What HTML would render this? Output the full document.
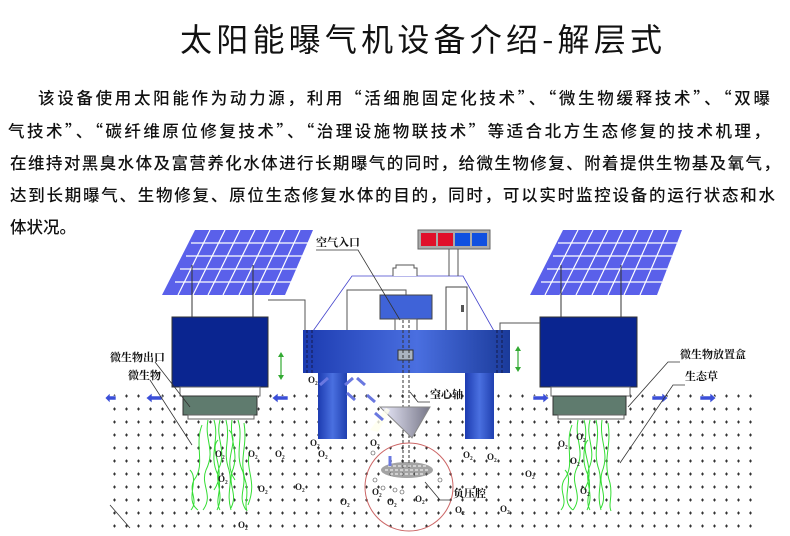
<!DOCTYPE html>
<html><head><meta charset="utf-8"><style>
html,body{margin:0;padding:0;background:#fff;width:790px;height:536px;overflow:hidden;position:relative}
.t{position:absolute;left:180px;top:16px;width:482px;text-align:justify;text-align-last:justify;font:32px/44px "Noto Sans CJK SC",sans-serif;color:#111;white-space:nowrap}
.l{position:absolute;font:16.5px/24px "Noto Sans CJK SC",sans-serif;color:#111;text-align:justify;text-align-last:justify;white-space:nowrap;font-weight:500}
svg{position:absolute;left:0;top:0}
</style></head><body>
<div class="t">太阳能曝气机设备介绍-解层式</div>
<div class="l" style="left:38px;top:85px;width:732px">该设备使用太阳能作为动力源，利用“活细胞固定化技术”、“微生物缓释技术”、“双曝</div>
<div class="l" style="left:8px;top:118px;width:762px">气技术”、“碳纤维原位修复技术”、“治理设施物联技术”等适合北方生态修复的技术机理，</div>
<div class="l" style="left:10px;top:150px;width:770px">在维持对黑臭水体及富营养化水体进行长期曝气的同时，给微生物修复、附着提供生物基及氧气，</div>
<div class="l" style="left:10px;top:182px;width:765px">达到长期曝气、生物修复、原位生态修复水体的目的，同时，可以实时监控设备的运行状态和水</div>
<div class="l" style="left:10px;top:214px;text-align:left;text-align-last:left">体状况。</div>
<svg width="790" height="536" viewBox="0 0 790 536" font-family="Liberation Serif,Noto Serif CJK SC,serif">
<defs>
<pattern id="dots" width="12" height="13" patternUnits="userSpaceOnUse"><path d="M5 6h3M6.5 4.5v3" stroke="#333" stroke-width="1.1"/></pattern>
<linearGradient id="pan" x1="0" y1="0" x2="0" y2="1"><stop offset="0" stop-color="#fff"/><stop offset="1" stop-color="#3a3fe0"/></linearGradient>
<linearGradient id="plat" x1="0" x2="1"><stop offset="0" stop-color="#1c3bb0"/><stop offset=".55" stop-color="#4a6fe0"/><stop offset="1" stop-color="#1a3a9a"/></linearGradient>
<linearGradient id="col" x1="0" x2="1"><stop offset="0" stop-color="#1c3bb0"/><stop offset=".5" stop-color="#4a70e0"/><stop offset="1" stop-color="#2040b0"/></linearGradient>
<linearGradient id="fun" x1="0" x2="1"><stop offset="0" stop-color="#eef"/><stop offset="1" stop-color="#778"/></linearGradient>
</defs>
<rect x="105" y="385" width="655" height="145" fill="url(#dots)"/>
<polygon points="195,230 313,230 285,295 162,295" fill="#5a60ea"/>
<g stroke="#fff" stroke-width="1.2" fill="none">
<path d="M191,243H308M186,256H303M180,269H297M175,282H291"/>
<path d="M210,230L178,295M225,230L193,295M240,230L208,295M255,230L223,295M270,230L239,295M285,230L254,295M300,230L270,295"/>
</g>
<path d="M192,265V317M253,265V317" stroke="#333"/>
<rect x="172" y="317" width="96" height="70" fill="#0a2590" stroke="#333"/>
<rect x="180" y="387" width="80" height="9" fill="#fff" stroke="#666"/>
<rect x="183" y="396" width="74" height="19" fill="#5f7b6e" stroke="#333"/>
<rect x="188" y="415" width="66" height="4" fill="#fff" stroke="#666"/>
<polygon points="563,230 682,230 657,295 530,295" fill="#5a60ea"/>
<g stroke="#fff" stroke-width="1.2" fill="none">
<path d="M558,243H677M553,256H672M547,269H667M541,282H662"/>
<path d="M578,230L545,295M593,230L560,295M608,230L576,295M623,230L592,295M638,230L608,295M653,230L624,295M668,230L640,295"/>
</g>
<path d="M561,265V317M621,265V317" stroke="#333"/>
<rect x="540" y="317" width="97" height="70" fill="#0a2590" stroke="#333"/>
<rect x="551" y="387" width="79" height="9" fill="#fff" stroke="#666"/>
<rect x="553" y="396" width="73" height="19" fill="#5f7b6e" stroke="#333"/>
<rect x="558" y="415" width="66" height="4" fill="#fff" stroke="#666"/>
<path d="M313,331L352,276H463L494,331" fill="none" stroke="#44c" stroke-width=".8"/>
<path d="M393,276v-8h3v-3h18v3h3v8" fill="#fff" stroke="#555"/>
<path d="M347,331V290H406V295" fill="none" stroke="#555"/>
<rect x="418" y="230" width="72" height="19" fill="#aaa" stroke="#666"/>
<rect x="421" y="233" width="15" height="13" fill="#e0102a"/><rect x="438" y="233" width="15" height="13" fill="#e0102a"/>
<rect x="455" y="233" width="15" height="13" fill="#1050e0"/><rect x="472" y="233" width="15" height="13" fill="#1050e0"/>
<path d="M449,249V276M458,249V276" stroke="#555"/>
<rect x="446" y="287" width="21" height="44" fill="#fff" stroke="#444"/>
<rect x="461" y="305" width="3" height="7" fill="#555"/>
<rect x="380" y="295" width="52" height="24" fill="#3f63d8" stroke="#444"/>
<rect x="395" y="319" width="22" height="12" fill="#fff" stroke="#555"/>
<path d="M268,300H305V330M500,331V323H540" fill="none" stroke="#555"/>
<rect x="303" y="330" width="207" height="43" fill="url(#plat)"/>
<path d="M307,330v43M312,330v43M497,330v43M502,330v43" stroke="#113" stroke-dasharray="3,2" stroke-width=".8"/>
<rect x="318" y="373" width="29" height="66" fill="url(#col)"/>
<rect x="465" y="373" width="29" height="66" fill="url(#col)"/>
<rect x="398" y="350" width="15" height="10" fill="#aab4c0" stroke="#333"/>
<path d="M403,320V470M409,320V470" stroke="#333" stroke-dasharray="3,2"/>
<polygon points="380,407 430,407 412,438" fill="url(#fun)" stroke="#888"/>
<polygon points="386,408 370,430 378,432 390,410" fill="#ffe" opacity=".8"/>
<ellipse cx="407" cy="470" rx="26" ry="8" fill="#666" opacity=".6"/>
<path d="M385,470h45M388,466h38M390,474h34" stroke="#fff" stroke-dasharray="3,2"/>
<circle cx="409" cy="487" r="44" fill="none" stroke="#c66"/>
<g fill="#3b4fd8" stroke="#fff" stroke-width=".6">
<path d="M146,396h10v-3l6,5-6,5v-3h-10z" transform="rotate(180 154 398)"/>
<path d="M104,396h6v-3l5,5-5,5v-3h-6z" transform="rotate(180 110 398)"/>
<path d="M272,396h10v-3l6,5-6,5v-3h-10z" transform="rotate(180 280 398)"/>
<path d="M533,396h10v-3l6,5-6,5v-3h-10z"/>
<path d="M652,396h10v-3l6,5-6,5v-3h-10z"/>
<path d="M700,396h10v-3l6,5-6,5v-3h-10z"/>
</g>
<g stroke="#6a78e0" stroke-width="3">
<path d="M328,378l-8,7M353,378l-8,7M365,385l-8,-7M355,400l-8,-7M375,402l-8,-7M383,420l-8,-7M390,466v-10"/>
</g>
<g stroke="#3a3" stroke-width="1.2"><path d="M281,355v22M518,349v20"/></g>
<g fill="#3a3"><path d="M278,357l3,-5 3,5z M278,375l3,5 3,-5z M515,351l3,-5 3,5z M515,367l3,5 3,-5z"/></g>
<g fill="none" stroke="#3d3" stroke-width="1">
<path d="M208,420c-4,20 8,30 -2,50c-6,15 8,25 -3,40M214,420c6,20 -6,35 4,55c5,15 -4,25 2,35M220,420c-5,18 7,30 -1,48c-5,14 6,26 -2,42M226,420c5,20 -4,30 3,50c4,15 -3,22 2,40M232,420c-3,22 8,32 0,52c-4,14 6,22 -1,36M238,420c6,18 -4,34 5,52c4,16 -6,24 3,38M202,425c-8,20 4,40 -8,55c-6,12 5,20 -3,30M244,423c4,25 -6,35 2,60c3,14 -2,20 1,28M218,440c-10,10 10,30 -4,50M229,430c12,12 -8,30 6,50M190,470c10,10 -6,30 8,40M250,450c-6,20 8,30 -2,55"/>
<path d="M578,420c-4,20 8,30 -2,50c-6,15 8,25 -3,40M584,420c6,20 -6,35 4,55c5,15 -4,25 2,35M590,420c-5,18 7,30 -1,48c-5,14 6,26 -2,42M596,420c5,20 -4,30 3,50c4,15 -3,22 2,40M602,420c-3,22 8,32 0,52c-4,14 6,22 -1,36M572,425c-8,20 4,40 -8,55c-6,12 5,20 -3,30M608,423c4,25 -6,35 2,60c3,14 -2,20 1,28M588,440c-10,10 10,30 -4,50M565,470c10,10 -6,30 8,40"/>
</g>
<g stroke="#333" stroke-width=".8" fill="none">
<path d="M316,250h42L400,320"/>
<path d="M155,362L190,407M150,380L192,445M110,505L130,528"/>
<path d="M430,402h-12L410,392"/>
<path d="M452,500h-12L425,482"/>
<path d="M680,362h-12L628,407"/>
<path d="M685,385h-12L620,463"/>
</g>
<g font-size="11" font-weight="bold" fill="#111">
<text x="316" y="246">空气入口</text>
<text x="110" y="361">微生物出口</text>
<text x="128" y="379">微生物</text>
<text x="430" y="398">空心轴</text>
<text x="453" y="497">负压腔</text>
<text x="680" y="358">微生物放置盒</text>
<text x="685" y="380">生态草</text>
</g>
<g font-size="9" font-weight="bold" fill="#222">
<text x="308" y="383">O₂</text><text x="310" y="446">O₂</text><text x="318" y="457">O₂</text>
<text x="248" y="457">O₂</text><text x="275" y="457">O₂</text><text x="215" y="457">O₂</text>
<text x="218" y="482">O₂</text><text x="258" y="492">O₂</text><text x="295" y="490">O₂</text>
<text x="340" y="505">O₂</text><text x="238" y="528">O₂</text><text x="370" y="446">O₂</text>
<text x="372" y="495">O₂</text><text x="387" y="505">O₂</text><text x="415" y="502">O₂</text>
<text x="463" y="458">O₂</text><text x="487" y="460">O₂</text><text x="525" y="477">O₂</text>
<text x="455" y="513">O₂</text><text x="500" y="512">O₂</text><text x="558" y="447">O₂</text>
<text x="576" y="440">O₂</text><text x="570" y="464">O₂</text><text x="580" y="494">O₂</text>
</g>
<g fill="none" stroke="#444" stroke-width=".6">
<circle cx="375" cy="480" r="2"/><circle cx="383" cy="488" r="2"/><circle cx="395" cy="490" r="2"/><circle cx="402" cy="492" r="2"/><circle cx="440" cy="480" r="2"/><circle cx="373" cy="453" r="2"/>
</g>
</svg>
</body></html>
